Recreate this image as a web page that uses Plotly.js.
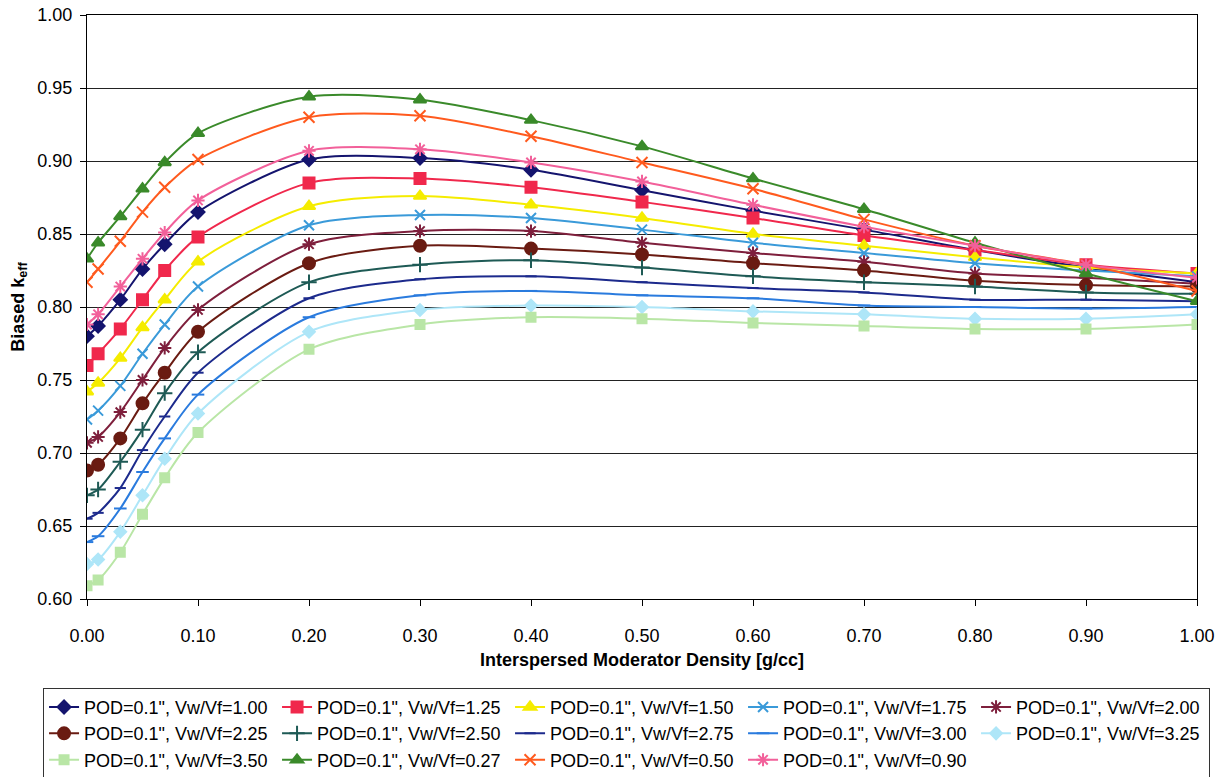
<!DOCTYPE html>
<html>
<head>
<meta charset="utf-8">
<script src="https://cdn.plot.ly/plotly-3.0.1.min.js"></script>
<style>html,body{margin:0;padding:0;background:#fff;}#chart{width:1223px;height:777px;}</style>
</head>
<body>
<div id="chart"></div>
<script>
// X values: interspersed moderator density [g/cc]
var density = [0, 0.01, 0.03, 0.05, 0.07, 0.1, 0.2, 0.3, 0.4, 0.5, 0.6, 0.7, 0.8, 0.9, 1.0];

// Series names (legend order)
var seriesNames = [
  'POD=0.1", Vw/Vf=1.00', 'POD=0.1", Vw/Vf=1.25', 'POD=0.1", Vw/Vf=1.50', 'POD=0.1", Vw/Vf=1.75', 'POD=0.1", Vw/Vf=2.00',
  'POD=0.1", Vw/Vf=2.25', 'POD=0.1", Vw/Vf=2.50', 'POD=0.1", Vw/Vf=2.75', 'POD=0.1", Vw/Vf=3.00', 'POD=0.1", Vw/Vf=3.25',
  'POD=0.1", Vw/Vf=3.50', 'POD=0.1", Vw/Vf=0.27', 'POD=0.1", Vw/Vf=0.50', 'POD=0.1", Vw/Vf=0.90'
];

// Biased keff values
var k100 = [0.780, 0.787, 0.805, 0.826, 0.843, 0.865, 0.901, 0.902, 0.894, 0.880, 0.866, 0.853, 0.839, 0.827, 0.817];
var k125 = [0.760, 0.768, 0.785, 0.805, 0.825, 0.848, 0.885, 0.888, 0.882, 0.872, 0.861, 0.849, 0.839, 0.829, 0.823];
var k150 = [0.742, 0.748, 0.765, 0.786, 0.805, 0.831, 0.869, 0.876, 0.870, 0.861, 0.850, 0.842, 0.834, 0.827, 0.823];
var k175 = [0.723, 0.729, 0.746, 0.768, 0.788, 0.814, 0.856, 0.863, 0.861, 0.853, 0.844, 0.837, 0.830, 0.825, 0.821];
var k200 = [0.707, 0.711, 0.728, 0.750, 0.772, 0.798, 0.843, 0.852, 0.852, 0.844, 0.837, 0.831, 0.823, 0.820, 0.816];
var k225 = [0.688, 0.692, 0.710, 0.734, 0.755, 0.783, 0.830, 0.842, 0.840, 0.836, 0.830, 0.825, 0.818, 0.815, 0.814];
var k250 = [0.671, 0.675, 0.694, 0.716, 0.741, 0.769, 0.817, 0.829, 0.832, 0.827, 0.821, 0.817, 0.814, 0.810, 0.809];
var k275 = [0.655, 0.659, 0.676, 0.702, 0.725, 0.755, 0.806, 0.819, 0.821, 0.817, 0.813, 0.810, 0.805, 0.805, 0.804];
var k300 = [0.639, 0.643, 0.662, 0.687, 0.710, 0.740, 0.793, 0.808, 0.811, 0.808, 0.806, 0.801, 0.800, 0.799, 0.800];
var k325 = [0.624, 0.627, 0.646, 0.671, 0.696, 0.727, 0.783, 0.798, 0.801, 0.800, 0.797, 0.795, 0.792, 0.792, 0.795];
var k350 = [0.609, 0.613, 0.632, 0.658, 0.683, 0.714, 0.771, 0.788, 0.793, 0.792, 0.789, 0.787, 0.785, 0.785, 0.788];
var k027 = [0.833, 0.844, 0.862, 0.881, 0.899, 0.919, 0.944, 0.942, 0.928, 0.910, 0.888, 0.867, 0.844, 0.823, 0.804];
var k050 = [0.817, 0.826, 0.845, 0.865, 0.882, 0.901, 0.930, 0.931, 0.917, 0.899, 0.881, 0.860, 0.842, 0.829, 0.811];
var k090 = [0.788, 0.795, 0.814, 0.833, 0.851, 0.873, 0.907, 0.908, 0.899, 0.886, 0.870, 0.855, 0.842, 0.829, 0.820];

var seriesValues = [k100, k125, k150, k175, k200, k225, k250, k275, k300, k325, k350, k027, k050, k090];

// Styles
var colors = ['#14146e', '#f0284c', '#f5ec00', '#3a9ad9', '#7e1f3c', '#6a1b12', '#1e5a55', '#1c2a8c', '#2a7bde', '#aee6f8', '#b9e6a6', '#3a8a2a', '#ff5a1e', '#f2609a'];
var symbols = ['diamond', 'square', 'triangle-up', 'x-thin-open', 'asterisk-open', 'circle', 'cross-thin-open', 'line-ew-open', 'line-ew-open', 'diamond', 'square', 'triangle-up', 'x-thin-open', 'asterisk-open'];
var sizes = [10, 11, 11, 10, 11, 12, 11, 8, 9, 9, 9, 11, 11, 11];

var FONT = 'Liberation Sans, Arial, sans-serif';

var traces = seriesValues.map(function (vals, i) {
  return {
    type: 'scatter',
    mode: 'lines+markers',
    name: seriesNames[i],
    x: density,
    y: vals,
    line: { color: colors[i], width: 2, shape: 'spline', smoothing: 0.8 },
    marker: { symbol: symbols[i], size: sizes[i], color: colors[i], line: { color: colors[i], width: 2 } }
  };
});

var layout = {
  width: 1223,
  height: 777,
  margin: { l: 87, r: 26, t: 15, b: 178, autoexpand: false },
  paper_bgcolor: '#ffffff',
  plot_bgcolor: '#ffffff',
  font: { family: FONT, size: 18, color: '#000' },
  showlegend: true,
  xaxis: {
    range: [0, 1],
    tickvals: [0, 0.1, 0.2, 0.3, 0.4, 0.5, 0.6, 0.7, 0.8, 0.9, 1.0],
    tickformat: '.2f',
    ticks: 'outside',
    ticklen: 6,
    tickcolor: '#000',
    ticklabelstandoff: 14,
    showgrid: false,
    zeroline: false,
    showline: true,
    linecolor: '#000',
    linewidth: 1,
    mirror: true,
    automargin: false,
    tickfont: { family: FONT, size: 18, color: '#000' },
    title: { text: '<b>Interspersed Moderator Density [g/cc]</b>', font: { family: FONT, size: 18, color: '#000' }, standoff: 8 }
  },
  yaxis: {
    range: [0.6, 1.0],
    dtick: 0.05,
    tickformat: '.2f',
    ticks: 'outside',
    ticklen: 6,
    tickcolor: '#000',
    ticklabelstandoff: 4,
    showgrid: true,
    gridcolor: '#222',
    gridwidth: 1,
    zeroline: false,
    showline: true,
    linecolor: '#000',
    linewidth: 1,
    mirror: true,
    automargin: false,
    tickfont: { family: FONT, size: 18, color: '#000' },
    title: { text: '<b>Biased k<sub>eff</sub></b>', font: { family: FONT, size: 18, color: '#000' }, standoff: 8 }
  },
  legend: {
    orientation: 'h',
    x: -0.0396,
    xanchor: 'left',
    y: -0.152,
    yanchor: 'top',
    entrywidth: 188,
    bordercolor: '#333',
    borderwidth: 1,
    bgcolor: '#ffffff',
    font: { family: FONT, size: 18, color: '#000' },
    traceorder: 'normal'
  }
};

Plotly.newPlot('chart', traces, layout, { displayModeBar: false, staticPlot: true });
</script>
</body>
</html>
